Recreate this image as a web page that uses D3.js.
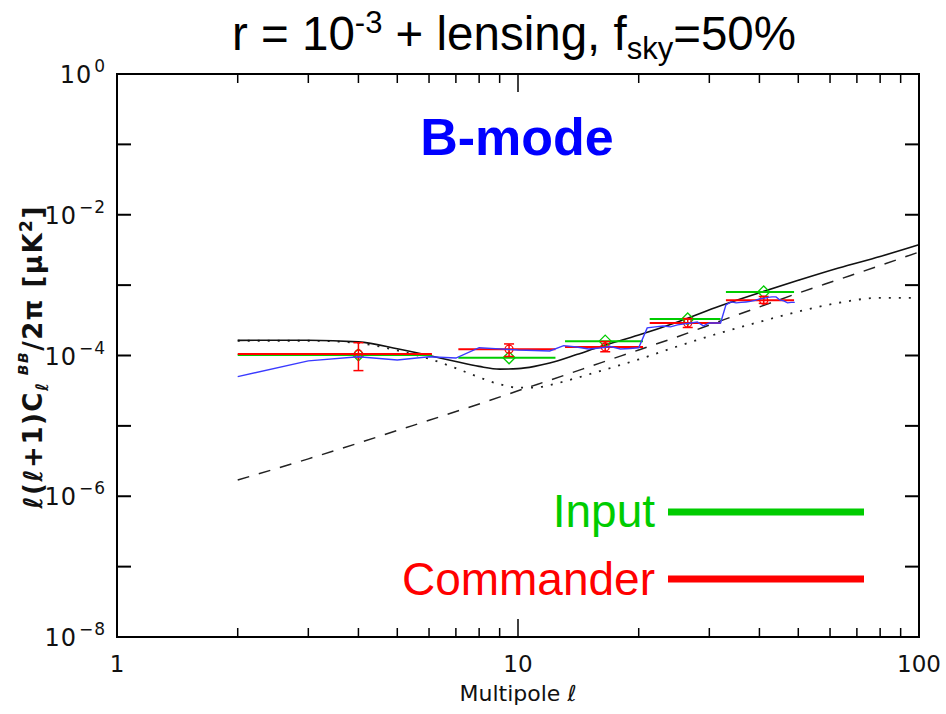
<!DOCTYPE html>
<html><head><meta charset="utf-8">
<script src="https://cdn.jsdelivr.net/npm/d3@7"></script>
<style>body{margin:0;background:#fff;} svg{display:block;}</style>
</head><body><svg id="c" width="946" height="714"></svg>
<script>
// ---- data ----
const theoryL  = [2,3,4,5,6,7,8,9,10,11,12,14,16,20,25,32,40,50,63,80,100];
const totalBB  = [1.64e-4,1.65e-4,1.56e-4,1.25e-4,1.0e-4,8.2e-5,7.0e-5,6.4e-5,6.5e-5,7.0e-5,7.8e-5,1.03e-4,1.33e-4,1.95e-4,3.0e-4,5.1e-4,7.8e-4,1.17e-3,1.75e-3,2.55e-3,3.75e-3];
const tensorBB = [1.62e-4,1.62e-4,1.5e-4,1.18e-4,9.0e-5,6.6e-5,4.9e-5,3.9e-5,3.5e-5,3.5e-5,3.8e-5,4.8e-5,6.0e-5,8.8e-5,1.35e-4,2.1e-4,3.0e-4,4.2e-4,5.6e-4,6.6e-4,6.6e-4];
const lensL    = [2,3,4,5,6,8,10,13,16,20,25,32,40,50,63,80,100];
const lensBB   = [1.7e-6,3.4e-6,5.7e-6,8.6e-6,1.2e-5,2.05e-5,3.15e-5,5.2e-5,7.8e-5,1.2e-4,1.85e-4,3.1e-4,4.9e-4,7.7e-4,1.2e-3,1.9e-3,2.95e-3];
const ellL     = [2,3,4,5,6,7,8,9,10,11,12,13,14,15,16,17,18,19,20,21,22,23,24,25,26,27,28,29,30,31,32,33,34,35,36,37,38,39,40,41,42,43,44,45,46,47,48,49];
const ellBB    = [5.0e-5,8.4e-5,9.6e-5,8.65e-5,9.6e-5,9.2e-5,1.29e-4,1.24e-4,1.2e-4,1.18e-4,1.16e-4,1.38e-4,1.32e-4,1.24e-4,1.28e-4,1.34e-4,1.24e-4,1.26e-4,1.29e-4,
                  2.47e-4,2.55e-4,2.63e-4,2.55e-4,2.72e-4,2.81e-4,2.9e-4,3.0e-4,2.63e-4,2.9e-4,2.9e-4,2.9e-4,
                  5.24e-4,5.77e-4,5.59e-4,5.68e-4,5.77e-4,5.87e-4,6.06e-4,6.37e-4,6.47e-4,6.69e-4,6.80e-4,6.80e-4,6.16e-4,5.96e-4,5.59e-4,5.68e-4,5.68e-4];
const binLo      = [2,7.1,13.1,21.3,33];
const binHi      = [6.1,12.4,20.5,32,48.8];
const binCenter  = [4,9.5,16.5,26.5,41];
const inputBB    = [1.02e-4,9.3e-5,1.6e-4,3.3e-4,8.0e-4];
const commanderBB= [1.05e-4,1.23e-4,1.32e-4,2.9e-4,6.1e-4];
const errLo      = [6.1e-5,9.7e-5,1.13e-4,2.5e-4,5.5e-4];
const errHi      = [1.52e-4,1.46e-4,1.58e-4,3.35e-4,6.9e-4];
const xTickLabels = ["1","10","100"];
const yTickExps   = ["0","−2","−4","−6","−8"];

// ---- drawing ----
const svg = d3.select("#c");
const L=117,R=919,T=74,B=637;
const x = d3.scaleLog().domain([1,100]).range([L,R]);
const y = d3.scaleLog().domain([1e-8,1]).range([B,T]);
const GREEN="#00cc00", RED="#ff0000", BLUE="#3a3aff";
const tickFont="'DejaVu Sans', sans-serif";
const arial="'Liberation Sans', Arial, sans-serif";

// theory curves
const lineT = d3.line().x(d=>x(d[0])).y(d=>y(d[1])).curve(d3.curveMonotoneX);
const g = svg.append("g");
g.append("path").attr("d", lineT(tensorBB.map((v,i)=>[theoryL[i],v])))
  .attr("fill","none").attr("stroke","#222").attr("stroke-width",1.8).attr("stroke-dasharray","2,8");
g.append("path").attr("d", lineT(lensBB.map((v,i)=>[lensL[i],v])))
  .attr("fill","none").attr("stroke","#222").attr("stroke-width",1.5).attr("stroke-dasharray","12,10");
g.append("path").attr("d", lineT(totalBB.map((v,i)=>[theoryL[i],v])))
  .attr("fill","none").attr("stroke","#111").attr("stroke-width",1.6);

// input (green) bins
binCenter.forEach((c,i)=>{
  g.append("line").attr("x1",x(binLo[i])).attr("x2",x(binHi[i])).attr("y1",y(inputBB[i])).attr("y2",y(inputBB[i]))
    .attr("stroke",GREEN).attr("stroke-width",2);
  const cx=x(c), cy=y(inputBB[i]);
  g.append("path").attr("d",`M${cx},${cy-6}L${cx+6},${cy}L${cx},${cy+6}L${cx-6},${cy}Z`)
    .attr("fill","none").attr("stroke",GREEN).attr("stroke-width",1.3);
});
// commander (red) bins
binCenter.forEach((c,i)=>{
  g.append("line").attr("x1",x(binLo[i])).attr("x2",x(binHi[i])).attr("y1",y(commanderBB[i])).attr("y2",y(commanderBB[i]))
    .attr("stroke",RED).attr("stroke-width",2);
  const cx=x(c), cy=y(commanderBB[i]), y1=y(errHi[i]), y2=y(errLo[i]);
  g.append("line").attr("x1",cx).attr("x2",cx).attr("y1",y1).attr("y2",y2).attr("stroke",RED).attr("stroke-width",1.5);
  [y1,y2].forEach(yy=>g.append("line").attr("x1",cx-5).attr("x2",cx+5).attr("y1",yy).attr("y2",yy).attr("stroke",RED).attr("stroke-width",1.5));
  g.append("circle").attr("cx",cx).attr("cy",cy).attr("r",4).attr("fill","none").attr("stroke",RED).attr("stroke-width",1.3);
});
// per-ell commander (blue)
const lineB = d3.line().x(d=>x(d[0])).y(d=>y(d[1]));
g.append("path").attr("d", lineB(ellBB.map((v,i)=>[ellL[i],v])))
  .attr("fill","none").attr("stroke",BLUE).attr("stroke-width",1.4);

// frame
svg.append("rect").attr("x",L).attr("y",T).attr("width",R-L).attr("height",B-T)
  .attr("fill","none").attr("stroke","#000").attr("stroke-width",2);

// y ticks (every decade), both sides
const yDec = [1e-7,1e-6,1e-5,1e-4,1e-3,1e-2,1e-1];
yDec.forEach(v=>{
  svg.append("line").attr("x1",L).attr("x2",L+14).attr("y1",y(v)).attr("y2",y(v)).attr("stroke","#000").attr("stroke-width",2);
  svg.append("line").attr("x1",R-14).attr("x2",R).attr("y1",y(v)).attr("y2",y(v)).attr("stroke","#000").attr("stroke-width",2);
});
// x ticks
const xMinor=[2,3,4,5,6,7,8,9,20,30,40,50,60,70,80,90];
xMinor.forEach(v=>{
  svg.append("line").attr("x1",x(v)).attr("x2",x(v)).attr("y1",B).attr("y2",B-9).attr("stroke","#000").attr("stroke-width",1.5);
  svg.append("line").attr("x1",x(v)).attr("x2",x(v)).attr("y1",T).attr("y2",T+9).attr("stroke","#000").attr("stroke-width",1.5);
});
svg.append("line").attr("x1",x(10)).attr("x2",x(10)).attr("y1",B).attr("y2",B-18).attr("stroke","#000").attr("stroke-width",1.5);
svg.append("line").attr("x1",x(10)).attr("x2",x(10)).attr("y1",T).attr("y2",T+18).attr("stroke","#000").attr("stroke-width",1.5);

// tick labels
[1,10,100].forEach((v,i)=>{
  svg.append("text").attr("x",x(v)).attr("y",672).attr("text-anchor","middle")
    .attr("font-family",tickFont).attr("font-size",23).attr("fill","#111").text(xTickLabels[i]);
});
[1,1e-2,1e-4,1e-6,1e-8].forEach((v,i)=>{
  const t = svg.append("text").attr("x",106).attr("y",y(v)+9).attr("text-anchor","end")
    .attr("font-family",tickFont).attr("font-size",24).attr("letter-spacing",1).attr("fill","#111");
  t.append("tspan").text("10");
  t.append("tspan").attr("dx",2).attr("dy",-11).attr("font-size",17).text(yTickExps[i]);
});

// axis titles
svg.append("text").attr("x",x(10)).attr("y",701).attr("text-anchor","middle")
  .attr("font-family",tickFont).attr("font-size",22).attr("fill","#111")
  .html("Multipole <tspan font-style='italic'>ℓ</tspan>");
const yt = svg.append("text").attr("transform","translate(42,357) rotate(-90)").attr("text-anchor","middle")
  .attr("font-family",tickFont).attr("font-size",26).attr("font-weight","bold").attr("letter-spacing",1.5).attr("fill","#111");
yt.append("tspan").attr("font-style","italic").text("ℓ");
yt.append("tspan").text("(");
yt.append("tspan").attr("font-style","italic").text("ℓ");
yt.append("tspan").text("+1)C");
yt.append("tspan").attr("dy",6).attr("font-size",17).attr("font-style","italic").text("ℓ");
yt.append("tspan").attr("dy",-20).attr("font-size",14).attr("font-style","italic").text(" BB");
yt.append("tspan").attr("dy",14).text("/2π  [μK");
yt.append("tspan").attr("dy",-10).attr("font-size",17).text("2");
yt.append("tspan").attr("dy",10).text("]");

// title
const tt = svg.append("text").attr("x",514).attr("y",50).attr("text-anchor","middle")
  .attr("font-family",arial).attr("font-size",47.5).attr("fill","#000");
tt.append("tspan").text("r = 10");
tt.append("tspan").attr("dy",-17).attr("font-size",31).text("-3");
tt.append("tspan").attr("dy",17).text(" + lensing, f");
tt.append("tspan").attr("dy",9).attr("font-size",31).text("sky");
tt.append("tspan").attr("dy",-9).text("=50%");

// B-mode label
svg.append("text").attr("x",517).attr("y",155).attr("text-anchor","middle")
  .attr("font-family",arial).attr("font-weight","bold").attr("font-size",52)
  .attr("fill","#0000ff").text("B-mode");

// legend
const leg=[{t:"Input",c:GREEN,ty:527,ly:512},{t:"Commander",c:RED,ty:595,ly:579}];
leg.forEach(d=>{
  svg.append("text").attr("x",655).attr("y",d.ty).attr("text-anchor","end")
    .attr("font-family",arial).attr("font-size",46).attr("fill",d.c).text(d.t);
  svg.append("line").attr("x1",668).attr("x2",864).attr("y1",d.ly).attr("y2",d.ly).attr("stroke",d.c).attr("stroke-width",7);
});
</script></body></html>
